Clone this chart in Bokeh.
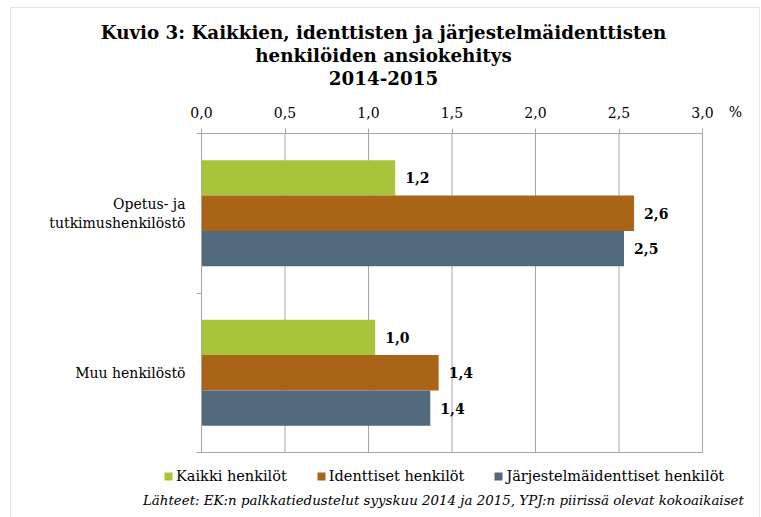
from bokeh.plotting import figure
from bokeh.models import (FixedTicker, CustomJSTickFormatter, Label, Legend, LegendItem,
                          BoxAnnotation, Range1d, ColumnDataSource)
from bokeh.core.properties import value
from bokeh.embed import file_html
from bokeh.resources import INLINE

# ---- data ----
categories = ["Opetus- ja\ntutkimushenkilöstö", "Muu henkilöstö"]
series_names = ["Kaikki henkilöt", "Identtiset henkilöt", "Järjestelmäidenttiset henkilöt"]
kaikki = [1.16, 1.04]
identtiset = [2.59, 1.42]
jarjestelma = [2.53, 1.37]
x_ticks = [0.0, 0.5, 1.0, 1.5, 2.0, 2.5, 3.0]
title_lines = ["Kuvio 3: Kaikkien, identtisten ja järjestelmäidenttisten",
               "henkilöiden ansiokehitys", "2014-2015"]
unit_label = "%"
source_text = "Lähteet:  EK:n palkkatiedustelut syyskuu 2014 ja 2015, YPJ:n piirissä olevat kokoaikaiset"

# ---- layout / style ----
colors = ["#A8C43A", "#A96418", "#53697D"]
SERIF = "DejaVu Serif"
GRID = "#A6A6A6"
W, H = 761, 517
PL, PR, PT, PB = 201, 702, 133, 452      # plot area in pixels
X_MAX = x_ticks[-1]
N_CAT = len(categories)
sx = X_MAX / (PR - PL)
sy = N_CAT / (PB - PT)

p = figure(width=W, height=H, min_border=0, min_border_left=0, min_border_right=0,
           min_border_top=0, min_border_bottom=0,
           x_range=Range1d(-PL * sx, X_MAX + (W - PR) * sx),
           y_range=Range1d(-(H - PB) * sy, N_CAT + PT * sy),
           x_axis_location="above", output_backend="svg", toolbar_location=None,
           background_fill_color="white", border_fill_color="white")
p.outline_line_color = None
p.xgrid.visible = False
p.ygrid.visible = False

# x axis (top of plot area)
xa = p.xaxis[0]
xa.fixed_location = N_CAT
xa.bounds = (0, X_MAX)
xa.ticker = FixedTicker(ticks=x_ticks, minor_ticks=[])
xa.formatter = CustomJSTickFormatter(code="return tick.toFixed(1).replace('.', ',');")
xa.axis_line_color = GRID
xa.major_tick_line_color = GRID
xa.major_tick_out = 5
xa.major_tick_in = 0
xa.minor_tick_line_color = None
xa.major_label_standoff = 11
xa.major_label_text_font = SERIF
xa.major_label_text_font_size = "14px"
xa.major_label_text_color = "#000000"

# y axis (categories)
cat_centers = [N_CAT - i - 0.5 for i in range(N_CAT)]
ya = p.yaxis[0]
ya.fixed_location = 0
ya.bounds = (0, N_CAT)
ya.ticker = FixedTicker(ticks=cat_centers, minor_ticks=list(range(N_CAT + 1)))
ya.major_label_overrides = {c: lab for c, lab in zip(cat_centers, categories)}
ya.axis_line_color = GRID
ya.major_tick_line_color = None
ya.major_tick_out = 0
ya.major_tick_in = 0
ya.minor_tick_line_color = GRID
ya.minor_tick_out = 5
ya.minor_tick_in = 0
ya.major_label_standoff = 11
ya.major_label_text_font = SERIF
ya.major_label_text_font_size = "14px"
ya.major_label_text_color = "#000000"

# vertical gridlines and plot-area bottom edge
p.segment(x0=x_ticks, y0=[0] * len(x_ticks), x1=x_ticks, y1=[N_CAT] * len(x_ticks),
          line_color=GRID, line_width=1)
p.segment(x0=[0], y0=[0], x1=[X_MAX], y1=[0], line_color=GRID, line_width=1)

# bars
bar_h = 0.222
series = [kaikki, identtiset, jarjestelma]
renderers = []
for i, (vals, col) in enumerate(zip(series, colors)):
    ys = [c + (1 - i) * bar_h for c in cat_centers]
    labels = [f"{v:.1f}".replace(".", ",") for v in vals]
    src = ColumnDataSource(dict(y=ys, right=vals, lab=labels))
    r = p.hbar(y="y", left=0, right="right", height=bar_h, source=src,
               fill_color=col, line_color=None)
    renderers.append(r)
    p.text(x="right", y="y", text="lab", source=src, x_offset=10,
           text_baseline="middle", text_align="left",
           text_font=value(SERIF), text_font_style="bold", text_font_size="14px",
           text_color="#000000")

legend = Legend(items=[LegendItem(label=n, renderers=[r]) for n, r in zip(series_names, renderers)],
                orientation="horizontal", location=(163, H - 484),
                glyph_width=10, glyph_height=10, label_standoff=3, spacing=29,
                padding=0, margin=0, border_line_color=None, background_fill_alpha=0,
                label_text_font=SERIF, label_text_font_size="14.5px", label_height=16,
                label_text_color="#000000")
p.add_layout(legend, "center")

# titles
title_y = [32, 55, 77]
for line, yy in zip(title_lines, title_y):
    p.add_layout(Label(x=383, y=H - yy, x_units="screen", y_units="screen", text=line,
                       text_align="center", text_baseline="middle",
                       text_font=SERIF, text_font_style="bold", text_font_size="18.3px",
                       text_color="#000000"))

p.add_layout(Label(x=735, y=H - 111, x_units="screen", y_units="screen", text=unit_label,
                   text_align="center", text_baseline="middle",
                   text_font=SERIF, text_font_size="14px", text_color="#000000"))

p.add_layout(Label(x=445, y=H - 500, x_units="screen", y_units="screen", text=source_text,
                   text_align="center", text_baseline="middle",
                   text_font=SERIF, text_font_style="italic", text_font_size="13.4px",
                   text_color="#000000"))

# outer chart border
p.add_layout(BoxAnnotation(left=10, right=759, top=H - 7, bottom=-10,
                           left_units="screen", right_units="screen",
                           top_units="screen", bottom_units="screen",
                           fill_alpha=0, line_color=GRID, line_width=1))

open("out.html", "w").write(file_html(p, INLINE))
